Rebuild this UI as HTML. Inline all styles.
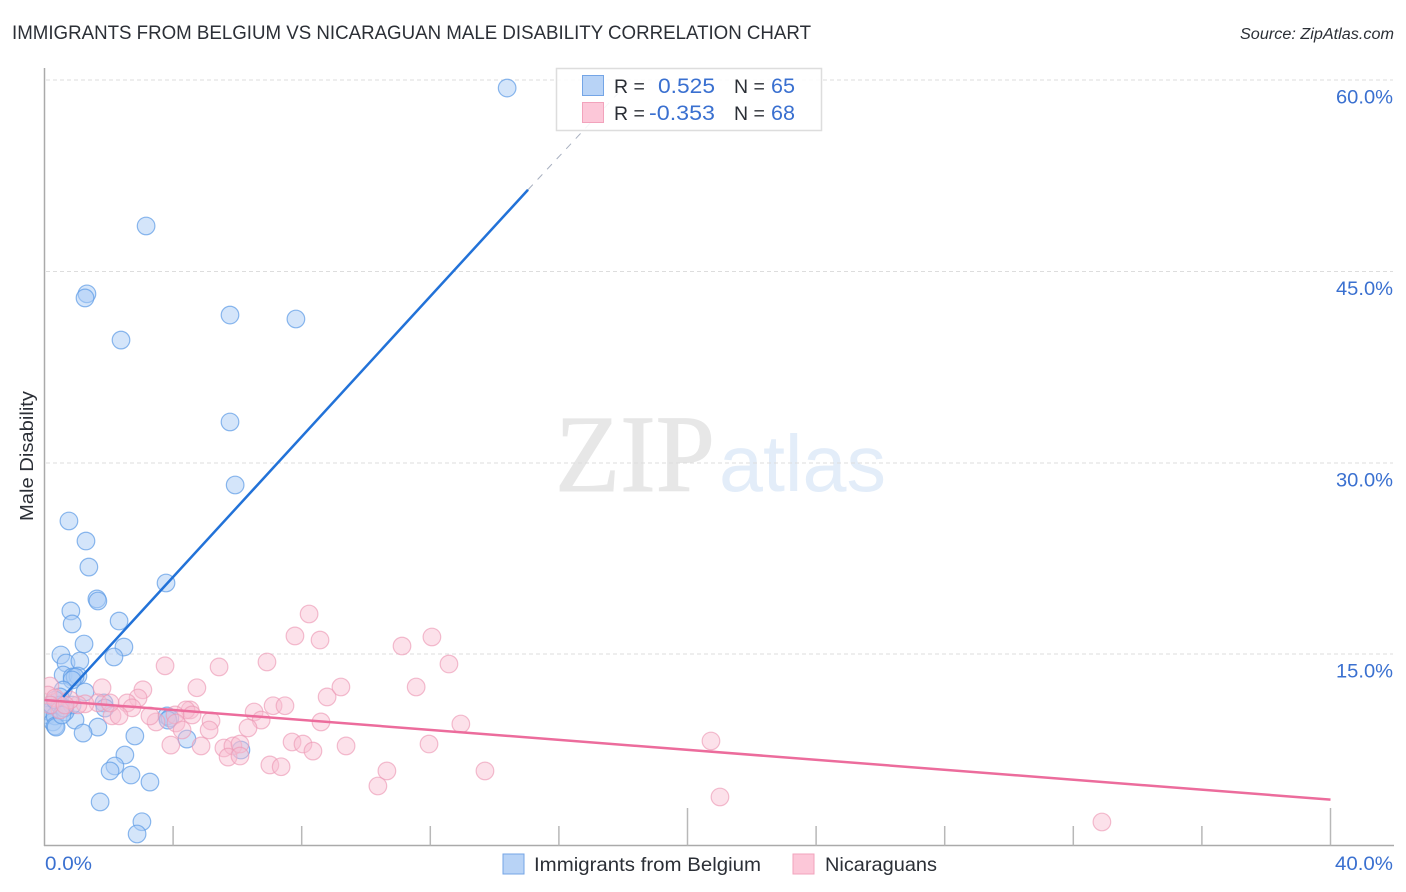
<!DOCTYPE html>
<html lang="en">
<head>
<meta charset="utf-8">
<title>Immigrants from Belgium vs Nicaraguan Male Disability Correlation Chart</title>
<style>
html,body{margin:0;padding:0;background:#fff;width:1406px;height:892px;overflow:hidden}
svg{display:block;font-family:"Liberation Sans",sans-serif}
</style>
</head>
<body>
<svg id="chart" width="1406" height="892" viewBox="0 0 1406 892" xmlns="http://www.w3.org/2000/svg">
  <defs>
    <clipPath id="plot-clip"><rect x="44.5" y="60" width="1350" height="786"/></clipPath>
  </defs>
  <text x="12" y="39" font-size="19" fill="#2b2f36" textLength="799" lengthAdjust="spacingAndGlyphs">IMMIGRANTS FROM BELGIUM VS NICARAGUAN MALE DISABILITY CORRELATION CHART</text>
  <text x="1394" y="39" font-size="15.5" font-style="italic" fill="#2b2f36" text-anchor="end" textLength="154" lengthAdjust="spacingAndGlyphs">Source: ZipAtlas.com</text>
  <g>
    <text x="555" y="491" font-family="'Liberation Serif',serif" font-size="110" fill="#e7e7e7" stroke="#e7e7e7" stroke-width="1" textLength="160" lengthAdjust="spacingAndGlyphs">ZIP</text>
    <text x="719" y="491" font-size="80" fill="#e3edf9" textLength="167" lengthAdjust="spacingAndGlyphs">atlas</text>
  </g>
  <g id="grid"></g>
  <g id="axes"></g>
  <g id="points-belgium" clip-path="url(#plot-clip)"></g>
  <g id="points-nicaragua" clip-path="url(#plot-clip)"></g>
  <g id="trends"></g>
  <text x="0" y="0" transform="translate(33,456) rotate(-90)" font-size="18" fill="#2b2f36" text-anchor="middle" textLength="130" lengthAdjust="spacingAndGlyphs">Male Disability</text>

  <g>
    <rect x="556.5" y="68.5" width="265" height="62" fill="#ffffff" fill-opacity="0.88" stroke="#dddddd" stroke-width="1.5"/>
    <rect x="582.5" y="75.5" width="21" height="20" fill="#b8d3f6" stroke="#74a5e6" stroke-width="1"/>
    <rect x="582.5" y="102.5" width="21" height="20" fill="#fcc7d8" stroke="#f2a3bc" stroke-width="1"/>
    <text x="614" y="93" font-size="19.5" fill="#2b2f36">R =</text>
    <text x="715" y="93" font-size="21" fill="#3a70d0" text-anchor="end" textLength="57" lengthAdjust="spacingAndGlyphs">0.525</text>
    <text x="734" y="93" font-size="19.5" fill="#2b2f36">N =</text>
    <text x="771" y="93" font-size="21" fill="#3a70d0" textLength="24" lengthAdjust="spacingAndGlyphs">65</text>
    <text x="614" y="120" font-size="19.5" fill="#2b2f36">R =</text>
    <text x="715" y="120" font-size="21" fill="#3a70d0" text-anchor="end" textLength="66" lengthAdjust="spacingAndGlyphs">-0.353</text>
    <text x="734" y="120" font-size="19.5" fill="#2b2f36">N =</text>
    <text x="771" y="120" font-size="21" fill="#3a70d0" textLength="24" lengthAdjust="spacingAndGlyphs">68</text>
  </g>

  <g>
    <g>
      <rect x="503" y="854" width="21" height="20" fill="#b8d3f6" stroke="#74a5e6" stroke-width="1"/>
      <text x="534" y="871" font-size="19.5" fill="#2b2f36" textLength="227" lengthAdjust="spacingAndGlyphs">Immigrants from Belgium</text>
    </g>
    <g>
      <rect x="793" y="854" width="21" height="20" fill="#fcc7d8" stroke="#f2a3bc" stroke-width="1"/>
      <text x="825" y="871" font-size="19.5" fill="#2b2f36" textLength="112" lengthAdjust="spacingAndGlyphs">Nicaraguans</text>
    </g>
  </g>
</svg>
<script>
// Chart data (values in percent)
const yTicks = [15, 30, 45, 60];
const yTickLabels = ["15.0%", "30.0%", "45.0%", "60.0%"];
const xTicks = [4, 8, 12, 16, 20, 24, 28, 32, 36, 40];
const xMajorTicks = [20, 40];
const xEndLabels = ["0.0%", "40.0%"];
const xEndValues = [0, 40];

const belgiumX = [14.39,3.16,1.32,1.26,2.38,5.77,7.82,5.77,5.93,0.76,1.29,1.38,3.78,1.63,1.66,0.82,0.86,2.32,1.23,2.47,2.16,0.51,0.67,1.10,0.58,0.86,1.04,0.95,0.86,1.26,0.58,0.48,1.85,1.88,0.95,1.66,1.20,2.81,2.50,2.19,2.04,2.69,3.28,1.73,3.03,2.88,3.81,3.90,4.43,6.11,0.08,0.11,0.17,0.26,0.33,0.33,0.36,0.23,0.48,0.64,0.86,0.33,0.61,3.84,0.54];
const belgiumY = [59.37,48.56,43.24,42.92,39.62,41.58,41.27,33.20,28.26,25.44,23.87,21.83,20.58,19.33,19.17,18.39,17.37,17.60,15.80,15.56,14.78,14.94,14.31,14.47,13.37,13.21,13.29,13.21,12.98,12.04,12.19,11.65,11.18,10.78,9.84,9.29,8.82,8.59,7.10,6.24,5.85,5.53,4.98,3.42,1.87,0.91,10.16,10.00,8.35,7.49,10.78,10.24,10.47,9.69,10.16,9.37,9.29,11.02,11.02,10.47,11.02,11.41,10.78,9.84,10.24];

const nicaraguaX = [8.23,7.79,8.57,12.05,11.12,12.58,6.92,5.43,3.75,4.74,1.79,3.06,2.91,2.57,2.72,2.10,2.32,1.66,1.26,1.04,8.79,9.22,11.56,8.60,12.95,7.11,7.48,6.52,6.74,6.33,5.18,5.12,4.53,4.40,4.59,4.06,3.47,3.28,4.09,4.28,3.93,4.87,5.58,5.86,6.08,5.71,6.08,7.70,8.04,8.35,9.38,7.01,7.36,10.65,10.37,11.96,13.70,20.73,21.01,32.89,0.17,0.11,0.33,0.79,0.48,0.17,0.64,2.04];
const nicaraguaY = [18.15,16.43,16.11,16.35,15.64,14.23,14.39,14.00,14.09,12.37,12.37,12.21,11.57,11.18,10.80,10.17,10.17,11.19,11.11,11.03,11.65,12.43,12.43,9.69,9.53,10.96,10.96,10.47,9.84,9.22,9.77,9.06,10.63,10.63,10.24,10.24,9.69,10.16,9.61,9.06,7.88,7.81,7.65,7.81,7.96,6.94,7.02,8.12,7.96,7.41,7.81,6.32,6.18,5.85,4.67,7.96,5.85,8.20,3.81,1.85,12.51,11.80,11.57,11.41,10.63,11.02,11.02,11.18];

const belgiumTrendX = [0.58, 15.04];
const belgiumTrendY = [11.65, 51.40];
const belgiumExtensionX = [15.04, 18.15];
const belgiumExtensionY = [51.40, 59.80];
const nicaraguaTrendX = [0, 40];
const nicaraguaTrendY = [11.41, 3.60];

// Axis functions
const NS = "http://www.w3.org/2000/svg";
function xScale(v) { return 44.5 + v * 32.15; }
function yScale(v) { return 845.6 - v * 12.76; }
function make(parent, tag, attrs) {
  const el = document.createElementNS(NS, tag);
  for (const k in attrs) el.setAttribute(k, attrs[k]);
  parent.appendChild(el);
  return el;
}

const grid = document.getElementById("grid");
const axes = document.getElementById("axes");

yTicks.forEach(function (t, i) {
  const line = make(grid, "line", {x1: 46, x2: 1393, y1: yScale(t), y2: yScale(t), stroke: "#dddddd", "stroke-width": 1, "stroke-dasharray": "4 3", "shape-rendering": "crispEdges"});
  
  
  const label = make(axes, "text", {x: 1393, y: yScale(t) + 23.5, "text-anchor": "end", "font-size": 19.5, fill: "#3a70d0", textLength: 57, lengthAdjust: "spacingAndGlyphs"});
  label.textContent = yTickLabels[i];
  
  
});

const yAxis = make(axes, "line", {x1: 44.5, x2: 44.5, y1: 68, y2: 846, stroke: "#aaaaaa", "stroke-width": 1.5});



const xAxis = make(axes, "line", {x1: 44, x2: 1394, y1: 845.5, y2: 845.5, stroke: "#aaaaaa", "stroke-width": 1.5});



xTicks.forEach(function (t) {
  const top = xMajorTicks.indexOf(t) >= 0 ? 808 : 826;
  const tick = make(axes, "line", {x1: xScale(t), x2: xScale(t), y1: top, y2: 845.5, stroke: "#b8b8b8", "stroke-width": 1.5});
  
  
});

xEndValues.forEach(function (v, i) {
  const isFirst = i === 0;
  const label = make(axes, "text", {x: isFirst ? 45 : 1393, y: 870, "text-anchor": isFirst ? "start" : "end", "font-size": 19.5, fill: "#3a70d0", textLength: isFirst ? 47 : 58, lengthAdjust: "spacingAndGlyphs"});
  label.textContent = xEndLabels[i];
  
  
});

const belgiumGroup = document.getElementById("points-belgium");


belgiumX.forEach(function (v, i) {
  const c = make(belgiumGroup, "circle", {cx: xScale(v), cy: yScale(belgiumY[i]), r: 8.8, fill: "#a9cbf5", "fill-opacity": 0.5, stroke: "#5f9ce6", "stroke-opacity": 0.72, "stroke-width": 1.2});
  
  
});

const nicaraguaGroup = document.getElementById("points-nicaragua");


nicaraguaX.forEach(function (v, i) {
  const c = make(nicaraguaGroup, "circle", {cx: xScale(v), cy: yScale(nicaraguaY[i]), r: 8.8, fill: "#f9bdd0", "fill-opacity": 0.45, stroke: "#ec9ab5", "stroke-opacity": 0.65, "stroke-width": 1.2});
  
  
});

const trends = document.getElementById("trends");
const extension = make(trends, "line", {x1: xScale(belgiumExtensionX[0]), y1: yScale(belgiumExtensionY[0]), x2: xScale(belgiumExtensionX[1]), y2: yScale(belgiumExtensionY[1]), stroke: "#a8b0c0", "stroke-width": 1, "stroke-dasharray": "7 7"});



const belgiumTrend = make(trends, "line", {x1: xScale(belgiumTrendX[0]), y1: yScale(belgiumTrendY[0]), x2: xScale(belgiumTrendX[1]), y2: yScale(belgiumTrendY[1]), stroke: "#2272d8", "stroke-width": 2.5});



const nicaraguaTrend = make(trends, "line", {x1: xScale(nicaraguaTrendX[0]), y1: yScale(nicaraguaTrendY[0]), x2: xScale(nicaraguaTrendX[1]), y2: yScale(nicaraguaTrendY[1]), stroke: "#ec6c9c", "stroke-width": 2.5});


</script>
</body>
</html>
